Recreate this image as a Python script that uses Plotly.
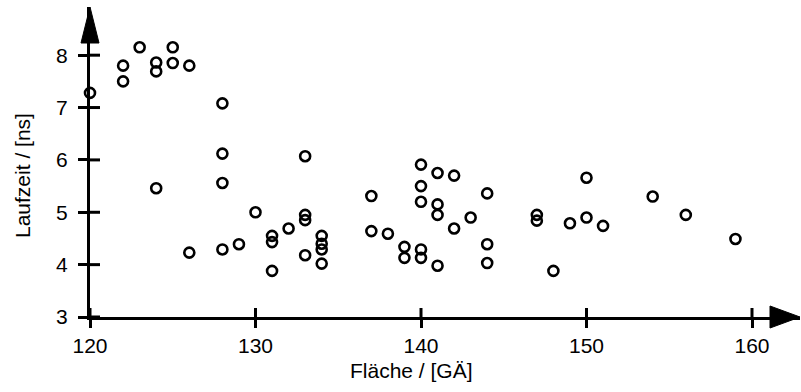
import plotly.graph_objects as go

# Data
flaeche = [120, 122, 122, 123, 124, 124, 124, 125, 125, 126, 126,
           128, 128, 128, 128, 129, 130, 131, 131, 131, 132,
           133, 133, 133, 133, 134, 134, 134, 134, 137, 137, 138,
           139, 139, 140, 140, 140, 140, 140, 141, 141, 141, 141,
           142, 142, 143, 144, 144, 144, 147, 147, 148, 149,
           150, 150, 151, 154, 156, 159]
laufzeit = [7.28, 7.80, 7.50, 8.15, 7.86, 7.69, 5.46, 8.15, 7.85, 7.80, 4.23,
            7.08, 6.12, 5.56, 4.29, 4.39, 5.00, 4.55, 4.43, 3.88, 4.69,
            6.07, 4.95, 4.85, 4.18, 4.55, 4.40, 4.29, 4.02, 5.31, 4.64, 4.59,
            4.34, 4.13, 5.91, 5.50, 5.20, 4.29, 4.13, 5.75, 5.15, 4.95, 3.98,
            5.70, 4.69, 4.90, 5.36, 4.39, 4.03, 4.95, 4.84, 3.88, 4.79,
            5.66, 4.90, 4.74, 5.30, 4.95, 4.49]

x_ticks = [120, 130, 140, 150, 160]
y_ticks = [3, 4, 5, 6, 7, 8]
x_title = "Fläche / [GÄ]"
y_title = "Laufzeit / [ns]"

x_range = [120, 162.9]
y_range = [3, 8.92]

FONT = "Liberation Sans, Arial, Helvetica, sans-serif"

fig = go.Figure()
fig.add_trace(go.Scatter(
    x=flaeche, y=laufzeit, mode="markers",
    marker=dict(symbol="circle-open", size=10, color="black",
                line=dict(width=2.6, color="black")),
    showlegend=False, cliponaxis=False,
))

shapes = []
# inner halves of the crossing ticks
for t in x_ticks:
    shapes.append(dict(type="line", xref="x", x0=t, x1=t,
                       yref="y", yanchor=y_range[0], ysizemode="pixel",
                       y0=0, y1=9, line=dict(color="black", width=3)))
for t in y_ticks:
    shapes.append(dict(type="line", yref="y", y0=t, y1=t,
                       xref="x", xanchor=x_range[0], xsizemode="pixel",
                       x0=0, x1=10, line=dict(color="black", width=3)))
# arrow heads (paper-referenced so they are not clipped)
shapes.append(dict(type="path", xref="paper", xanchor=1, xsizemode="pixel",
                   yref="paper", yanchor=0, ysizemode="pixel",
                   path="M 0,0 L -30,11 L -30,-11 Z",
                   fillcolor="black", line=dict(color="black", width=1)))
shapes.append(dict(type="path", xref="paper", xanchor=0, xsizemode="pixel",
                   yref="paper", yanchor=1, ysizemode="pixel",
                   path="M 0,0 L -9,-36 L 9,-36 Z",
                   fillcolor="black", line=dict(color="black", width=1)))

fig.update_layout(
    width=801, height=392,
    margin=dict(l=90, r=1, t=7, b=75),
    paper_bgcolor="white", plot_bgcolor="white",
    font=dict(family=FONT, size=21, color="black"),
    xaxis=dict(range=x_range, tickvals=x_ticks, ticktext=[str(v) for v in x_ticks],
               showgrid=False, zeroline=False, showline=True, linecolor="black",
               linewidth=3, ticks="outside", ticklen=8, tickwidth=3,
               tickcolor="black", tickfont=dict(size=21)),
    yaxis=dict(range=y_range, tickvals=y_ticks, ticktext=[str(v) for v in y_ticks],
               showgrid=False, zeroline=False, showline=True, linecolor="black",
               linewidth=3, ticks="outside", ticklen=9, tickwidth=3,
               tickcolor="black", tickfont=dict(size=21), ticklabelstandoff=6),
    shapes=shapes,
    annotations=[
        dict(text=x_title, xref="paper", yref="paper", x=(411 - 90) / 710, y=-(370 - 317) / 310,
             xanchor="center", yanchor="middle", showarrow=False, font=dict(size=21)),
        dict(text=y_title, xref="paper", yref="paper", x=-(90 - 22) / 710, y=(317 - 176) / 310,
             xanchor="center", yanchor="middle", textangle=-90, showarrow=False,
             font=dict(size=21)),
    ],
)

fig.write_html("out.html")
